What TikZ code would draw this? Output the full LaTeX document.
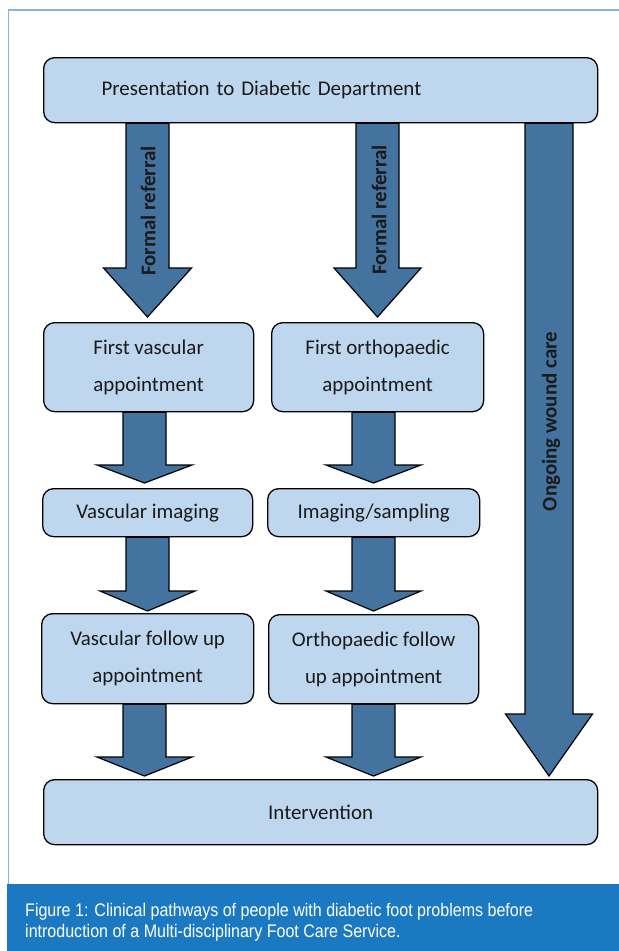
\documentclass[tikz,border=0pt]{standalone}
\usepackage{fontspec}
\setmainfont{Carlito}
\newfontfamily\capfont[FakeStretch=0.88]{Liberation Sans}
\usetikzlibrary{calc}
\definecolor{boxfill}{HTML}{BED7EE}
\definecolor{arrowfill}{HTML}{44739F}
\definecolor{capblue}{HTML}{1B79C2}
\definecolor{framecol}{HTML}{86B4E0}
\definecolor{txt}{HTML}{1A1A1A}
\tikzset{
  boxsty/.style={draw=black, line width=1.3bp, rounded corners=11bp, fill=boxfill,
    font=\fontsize{21}{37}\selectfont, text=txt, align=center, inner sep=0pt, anchor=north west},
  barrowsty/.style={draw=black, line width=1.2bp, fill=arrowfill, line join=miter},
  vlabel/.style={rotate=90, font=\bfseries\fontsize{21}{25}\selectfont, text=txt, inner sep=0pt},
  capsty/.style={anchor=base west, text=white, font=\capfont\fontsize{18.3}{21}\selectfont, inner sep=0pt},
  framesty/.style={draw=framecol, line width=1.5bp}
}
% #1 from node, #2 to node, #3 centre coordinate, #4 half shaft, #5 half head, #6 head length, #7 gap
\newcommand\barrow[7]{%
  \draw[barrowsty] let \p1=(#1.south -| #3), \p2=(#2.north -| #3) in
    (\x1-#4bp,\y1) -- (\x1-#4bp,\y2+#7bp+#6bp) -- (\x1-#5bp,\y2+#7bp+#6bp) -- (\x1,\y2+#7bp)
    -- (\x1+#5bp,\y2+#7bp+#6bp) -- (\x1+#4bp,\y2+#7bp+#6bp) -- (\x1+#4bp,\y1) -- cycle;}
\begin{document}
\begin{tikzpicture}[x=1bp,y=-1bp]
\useasboundingbox (0,0) rectangle (619,951);
% frame and caption band
\coordinate (fb) at (8.5,884);
\coordinate (ftl) at (8.5,10);
\coordinate (ftr) at (619,10);
\draw[framesty] (fb) -- (ftl) -- (ftr);
\fill[capblue] (7,884) rectangle (619,951);
\node[capsty] (cap1) at (25,916) {Figure 1: Clinical pathways of people with diabetic foot problems before};
\node[capsty] (cap2) at (25,937.5) {introduction of a Multi-disciplinary Foot Care Service.};
% boxes
\node[boxsty, minimum width=554bp, minimum height=65bp, text width=438bp, inner xsep=58bp, align=left] (top) at (43,57) {Presentation to Diabetic Department};
\node[boxsty, minimum width=210bp, minimum height=89bp] (v1) at (43,322) {First vascular\\appointment};
\node[boxsty, minimum width=212bp, minimum height=89bp] (o1) at (271,322) {First orthopaedic\\appointment};
\node[boxsty, minimum width=210bp, minimum height=48bp] (v2) at (42,488) {Vascular imaging};
\node[boxsty, minimum width=212bp, minimum height=48bp] (o2) at (267,488) {Imaging/sampling};
\node[boxsty, minimum width=212bp, minimum height=90bp] (v3) at (41,613) {Vascular follow up\\appointment};
\node[boxsty, minimum width=210bp, minimum height=89bp] (o3) at (268,614) {Orthopaedic follow\\up appointment};
\node[boxsty, minimum width=554bp, minimum height=65bp] (iv) at (43,779) {Intervention};
% arrow centre lines
\coordinate (c1) at (147.5,0);
\coordinate (c2) at (377.5,0);
\coordinate (c3) at (144.5,0);
\coordinate (c4) at (373.5,0);
\coordinate (c5) at (147.5,0);
\coordinate (c6) at (549,0);
% arrows
\barrow{top}{v1}{c1}{21.5}{44}{49}{5}
\barrow{top}{o1}{c2}{21.5}{43.5}{49}{5}
\barrow{v1}{v2}{c3}{21.5}{47.5}{18}{5}
\barrow{o1}{o2}{c4}{21.5}{47.5}{18}{5}
\barrow{v2}{v3}{c5}{21.5}{47.5}{20}{2}
\barrow{o2}{o3}{c4}{21.5}{47.5}{20}{3}
\barrow{v3}{iv}{c3}{21.5}{47.5}{19}{3}
\barrow{o3}{iv}{c4}{21.5}{47.5}{19}{3}
\barrow{top}{iv}{c6}{24}{43.5}{62}{3}
% arrow labels
\node[vlabel] (fr1) at (148,211) {Formal referral};
\node[vlabel] (fr2) at (379,210) {Formal referral};
\node[vlabel] (wc) at (551,421.5) {Ongoing wound care};
\end{tikzpicture}
\end{document}
